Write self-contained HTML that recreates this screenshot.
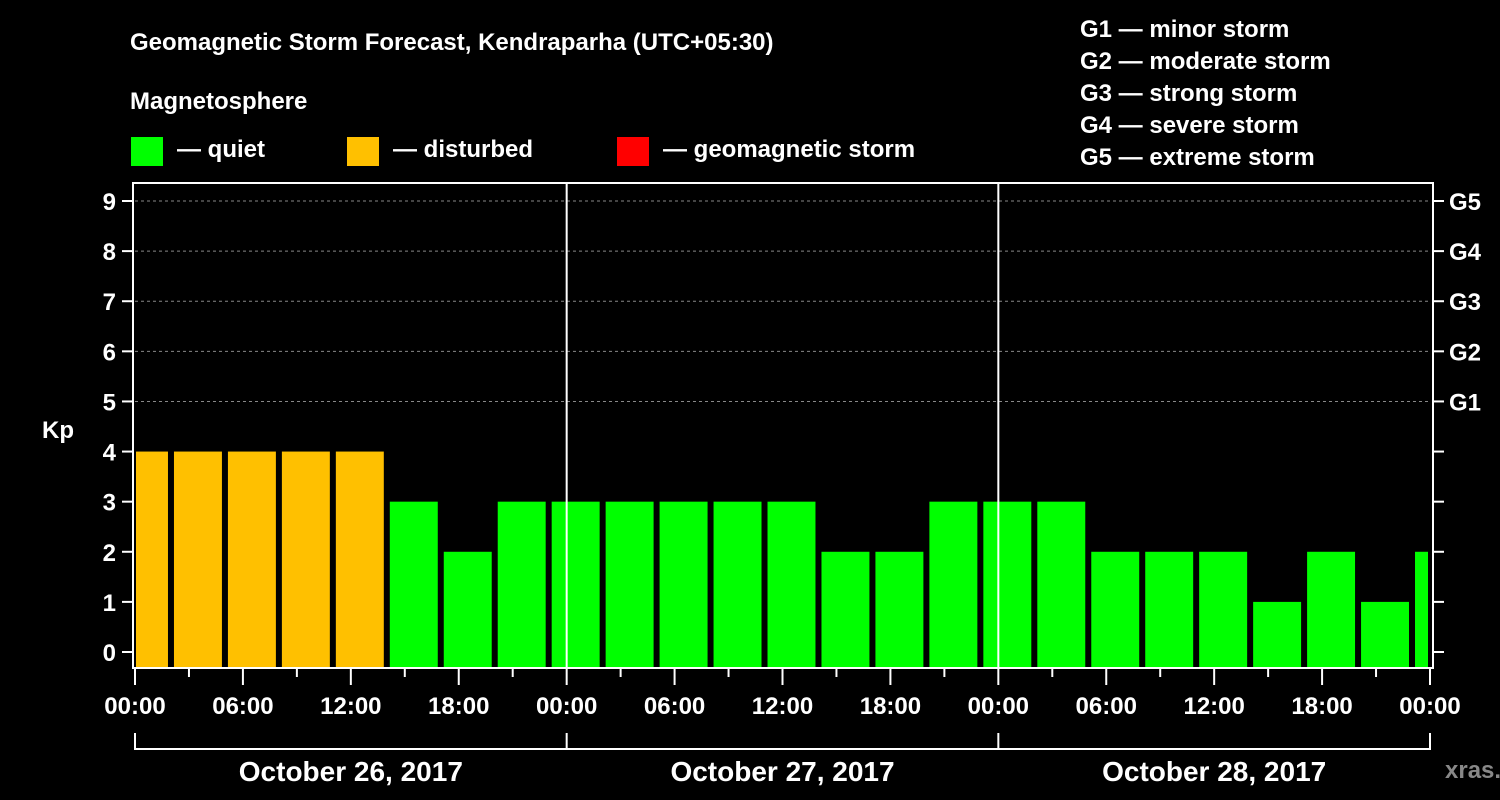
<!DOCTYPE html>
<html><head><meta charset="utf-8"><style>
body{margin:0;background:#000;}
svg{display:block;font-family:"Liberation Sans",sans-serif;font-weight:bold;}
</style></head><body>
<svg id="chart" width="1500" height="800" xmlns="http://www.w3.org/2000/svg">
<rect width="1500" height="800" fill="#000"/>
<text x="130" y="50" fill="#fff" font-size="24">Geomagnetic Storm Forecast, Kendraparha (UTC+05:30)</text>
<text x="130" y="109" fill="#fff" font-size="24">Magnetosphere</text>
<g><rect x="131" y="137" width="32" height="29" fill="#00ff00"/><text x="177" y="157" fill="#fff" font-size="24">— quiet</text></g>
<g><rect x="347" y="137" width="32" height="29" fill="#ffc000"/><text x="393" y="157" fill="#fff" font-size="24">— disturbed</text></g>
<g><rect x="617" y="137" width="32" height="29" fill="#ff0000"/><text x="663" y="157" fill="#fff" font-size="24">— geomagnetic storm</text></g>
<g fill="#fff" font-size="24">
<text x="1080" y="37">G1 — minor storm</text>
<text x="1080" y="69">G2 — moderate storm</text>
<text x="1080" y="101">G3 — strong storm</text>
<text x="1080" y="133">G4 — severe storm</text>
<text x="1080" y="165">G5 — extreme storm</text>
</g>
<text x="42" y="438" fill="#fff" font-size="24">Kp</text>
<text x="1445" y="778" fill="#888" font-size="24">xras.ru</text>
<g id="plot"></g>
</svg>
<script>
const kpValues=[4,4,4,4,4,3,2,3,3,3,3,3,3,2,2,3,3,3,2,2,2,1,2,1,2];
const yTicks=[0,1,2,3,4,5,6,7,8,9];
const gLabels=["G1","G2","G3","G4","G5"];
const xTickLabels=["00:00","06:00","12:00","18:00","00:00","06:00","12:00","18:00","00:00","06:00","12:00","18:00","00:00"];
const dayLabels=["October 26, 2017","October 27, 2017","October 28, 2017"];
const X0=135,X1=1430,PLOTTOP=183,PLOTBOT=668;
const hoursTotal=72;
const xs=h=>X0+(X1-X0)*h/hoursTotal;
const ys=v=>652-v*(652-201)/9;
const g=document.getElementById('plot');
const NS="http://www.w3.org/2000/svg";
function mk(t,a){const e=document.createElementNS(NS,t);for(const k in a)e.setAttribute(k,a[k]);g.appendChild(e);return e;}
// grid
for(let v=5;v<=9;v++){const l=mk('line',{x1:X0,x2:X1,y1:ys(v),y2:ys(v),stroke:'#888','stroke-dasharray':'3,3','stroke-width':1});

}
// bars
kpValues.forEach((v,i)=>{
 let a=xs(3*i-1)+3,b=xs(3*i+2)-3;
 a=Math.max(a,X0+1);b=Math.min(b,X1-2);
 const r=mk('rect',{x:a,y:ys(v),width:b-a,height:PLOTBOT-ys(v)-1,fill:v>=5?'#ff0000':(v>=4?'#ffc000':'#00ff00')});
 
 
});
// day separators
for(let d=1;d<3;d++){const l=mk('line',{x1:xs(24*d),x2:xs(24*d),y1:PLOTTOP,y2:PLOTBOT,stroke:'#fff','stroke-width':2});

}
// frame
const fr=mk('rect',{x:133,y:PLOTTOP,width:X1+3-133,height:PLOTBOT-PLOTTOP,fill:'none',stroke:'#fff','stroke-width':2});


// y ticks
yTicks.forEach(v=>{
 mk('line',{x1:122,x2:132,y1:ys(v),y2:ys(v),stroke:'#fff','stroke-width':2});
 mk('line',{x1:1434,x2:1444,y1:ys(v),y2:ys(v),stroke:'#fff','stroke-width':2});
 const t=mk('text',{x:116,y:ys(v)+9,fill:'#fff','font-size':24,'text-anchor':'end'});t.textContent=v;
 
 
});
gLabels.forEach((s,i)=>{const t=mk('text',{x:1449,y:ys(5+i)+9,fill:'#fff','font-size':24});t.textContent=s;
 
 });
// x ticks
for(let h=0;h<=72;h+=3){const maj=h%6===0;mk('line',{x1:xs(h),x2:xs(h),y1:669,y2:maj?685:677,stroke:'#fff','stroke-width':2});}
xTickLabels.forEach((s,i)=>{const t=mk('text',{x:xs(6*i),y:714,fill:'#fff','font-size':24,'text-anchor':'middle'});t.textContent=s;
 
 });
// day brackets
mk('line',{x1:X0,x2:X1,y1:749,y2:749,stroke:'#fff','stroke-width':2});
for(let d=0;d<=3;d++)mk('line',{x1:xs(24*d),x2:xs(24*d),y1:733,y2:750,stroke:'#fff','stroke-width':2});
dayLabels.forEach((s,i)=>{const t=mk('text',{x:xs(24*i+12),y:781,fill:'#fff','font-size':28,'text-anchor':'middle'});t.textContent=s;
 
 });
</script>
</body></html>
